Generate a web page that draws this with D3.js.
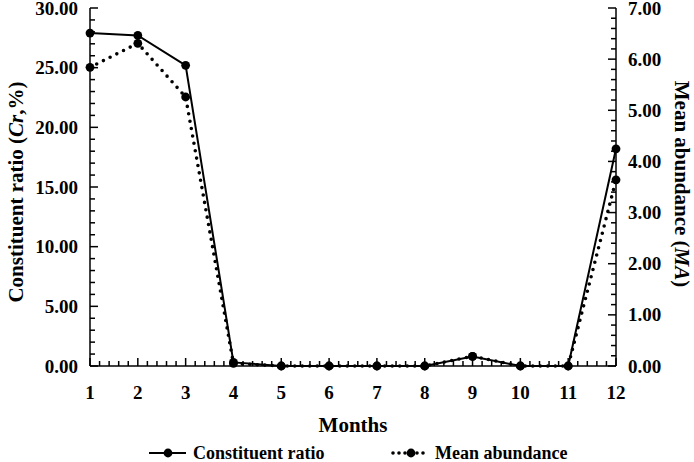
<!DOCTYPE html>
<html><head><meta charset="utf-8">
<script src="https://cdn.jsdelivr.net/npm/d3@7/dist/d3.min.js"></script>
<style>body{margin:0;background:#fff}svg{display:block}text{font-family:"Liberation Serif","Times New Roman",serif;font-weight:bold;fill:#000}</style>
</head><body><svg id="c" width="694" height="462"></svg>
<script>
const months = [1,2,3,4,5,6,7,8,9,10,11,12];
const constituentRatio = [27.9,27.7,25.2,0.3,0,0,0,0,0.8,0,0,18.2];
const meanAbundance = [5.84,6.31,5.26,0.05,0,0,0,0,0.19,0,0,3.64];
const leftTicks = [0,5,10,15,20,25,30];
const rightTicks = [0,1,2,3,4,5,6,7];

const svg = d3.select("#c");
const L=90, R=616, T=8, B=366;
const x = d3.scaleLinear().domain([1,12]).range([L,R]);
const yL = d3.scaleLinear().domain([0,30]).range([B,T]);
const yR = d3.scaleLinear().domain([0,7]).range([B,T]);

const g = svg.append("g").attr("stroke","#000").attr("stroke-width",1.5);
g.append("line").attr("x1",L).attr("x2",L).attr("y1",T).attr("y2",B);
g.append("line").attr("x1",R).attr("x2",R).attr("y1",T).attr("y2",B);
g.append("line").attr("x1",L).attr("x2",R).attr("y1",B).attr("y2",B);
d3.range(1,12.001,0.2).forEach((v,i)=>{
  const major = i%5===0;
  g.append("line").attr("x1",x(v)).attr("x2",x(v)).attr("y1",B).attr("y2",B-(major?8:5));
});
d3.range(0,30.001,1).forEach((v,i)=>{
  const major=i%5===0;
  g.append("line").attr("x1",L).attr("x2",L+(major?8:5)).attr("y1",yL(v)).attr("y2",yL(v));
});
d3.range(0,7.001,0.2).forEach((v,i)=>{
  const major=i%5===0;
  g.append("line").attr("x1",R).attr("x2",R-(major?8:5)).attr("y1",yR(v)).attr("y2",yR(v));
});

svg.selectAll(".lt").data(leftTicks).join("text").attr("x",L-12).attr("y",d=>yL(d)+6.5)
  .attr("text-anchor","end").style("font-size","19px").text(d=>d3.format(".2f")(d));
svg.selectAll(".rt").data(rightTicks).join("text").attr("x",R+12).attr("y",d=>yR(d)+6.5)
  .attr("text-anchor","start").style("font-size","19px").text(d=>d3.format(".2f")(d));
svg.selectAll(".xt").data(months).join("text").attr("x",d=>x(d)).attr("y",B+33)
  .attr("text-anchor","middle").style("font-size","19px").text(d=>d);

svg.append("text").attr("x",(L+R)/2).attr("y",432).attr("text-anchor","middle").style("font-size","21px").text("Months");
const lt = svg.append("text").attr("transform","translate(23,192) rotate(-90)").attr("text-anchor","middle").style("font-size","21px");
lt.append("tspan").text("Constituent ratio (");
lt.append("tspan").style("font-style","italic").text("Cr");
lt.append("tspan").text(",%)");
const rt = svg.append("text").attr("transform","translate(675,184) rotate(90)").attr("text-anchor","middle").style("font-size","21px");
rt.append("tspan").text("Mean abundance (");
rt.append("tspan").style("font-style","italic").text("MA");
rt.append("tspan").text(")");

const lineL = d3.line().x((d,i)=>x(months[i])).y(d=>yL(d));
const lineR = d3.line().x((d,i)=>x(months[i])).y(d=>yR(d));
svg.append("path").attr("d",lineR(meanAbundance)).attr("fill","none").attr("stroke","#000")
  .attr("stroke-width",3.6).attr("stroke-dasharray","0,7.5").attr("stroke-linecap","round");
svg.append("path").attr("d",lineL(constituentRatio)).attr("fill","none").attr("stroke","#000").attr("stroke-width",2);
svg.selectAll(".mr").data(meanAbundance).join("circle").attr("cx",(d,i)=>x(months[i])).attr("cy",d=>yR(d)).attr("r",4.4).attr("fill","#000");
svg.selectAll(".ml").data(constituentRatio).join("circle").attr("cx",(d,i)=>x(months[i])).attr("cy",d=>yL(d)).attr("r",4.4).attr("fill","#000");

const ly=453;
svg.append("line").attr("x1",149).attr("x2",186).attr("y1",ly).attr("y2",ly).attr("stroke","#000").attr("stroke-width",2);
svg.append("circle").attr("cx",168).attr("cy",ly).attr("r",4.4);
svg.append("text").attr("x",193).attr("y",ly+6).style("font-size","18px").text("Constituent ratio");
svg.append("line").attr("x1",393).attr("x2",429).attr("y1",ly).attr("y2",ly).attr("stroke","#000")
  .attr("stroke-width",3.6).attr("stroke-dasharray","0,6").attr("stroke-linecap","round");
svg.append("circle").attr("cx",411).attr("cy",ly).attr("r",4.4);
svg.append("text").attr("x",435).attr("y",ly+6).style("font-size","18px").text("Mean abundance");
</script></body></html>
